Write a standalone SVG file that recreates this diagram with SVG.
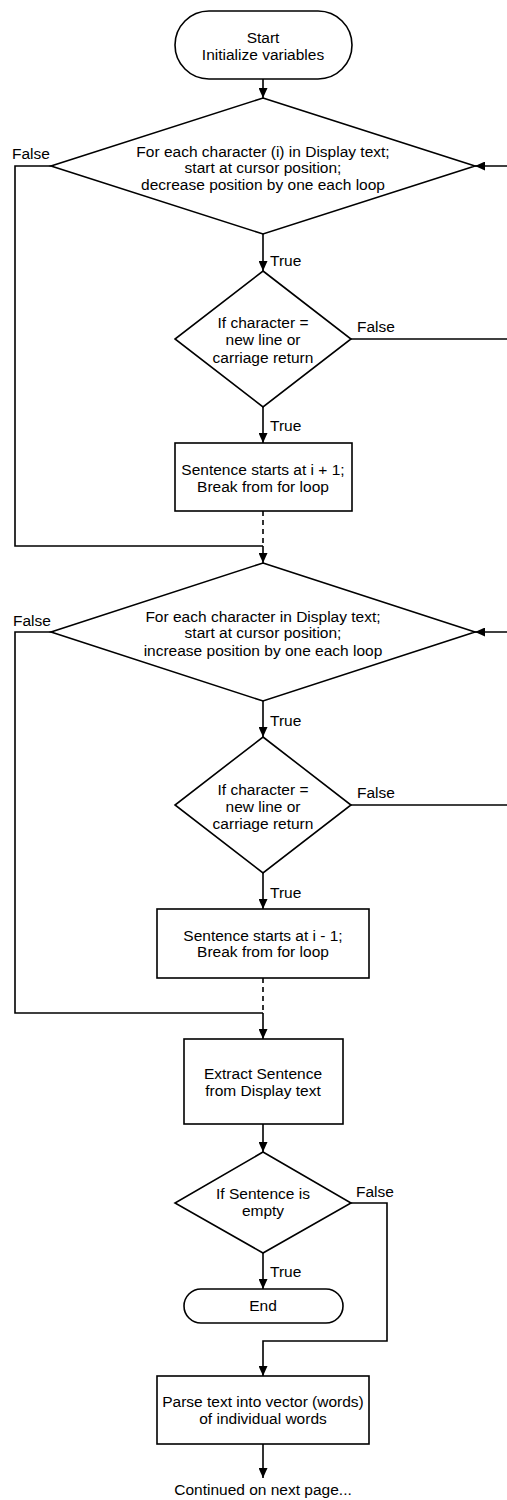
<svg xmlns="http://www.w3.org/2000/svg" width="507" height="1500" viewBox="0 0 507 1500">
<style>
.s{fill:#fff;stroke:#000;stroke-width:1.6}
.c{fill:none;stroke:#000;stroke-width:1.6}
.d{stroke-dasharray:5,4}
text{font-family:"Liberation Sans",Arial,sans-serif;font-size:15.5px;fill:#000}
.m{text-anchor:middle}
</style>
<defs>
<marker id="a" markerUnits="userSpaceOnUse" markerWidth="10" markerHeight="9" refX="10" refY="4.5" orient="auto">
<path d="M0,0 L10,4.5 L0,9 z" fill="#000"/>
</marker>
</defs>
<rect width="507" height="1500" fill="#fff"/>
<g id="connectors">
<path class="c" d="M263,79 V98" marker-end="url(#a)"/>
<path class="c" d="M263,234 V271" marker-end="url(#a)"/>
<path class="c" d="M263,407 V443" marker-end="url(#a)"/>
<path class="c" d="M510,166 H475" marker-end="url(#a)"/>
<path class="c" d="M351,339 H510"/>
<path class="c" d="M51,166 H15 V546 H263"/>
<path class="c d" d="M263,511 V546"/>
<path class="c" d="M263,546 V563" marker-end="url(#a)"/>
<path class="c" d="M263,701 V737" marker-end="url(#a)"/>
<path class="c" d="M263,873 V909" marker-end="url(#a)"/>
<path class="c" d="M510,632 H475" marker-end="url(#a)"/>
<path class="c" d="M351,805 H510"/>
<path class="c" d="M51,632 H15 V1013 H263"/>
<path class="c d" d="M263,978 V1013"/>
<path class="c" d="M263,1013 V1039" marker-end="url(#a)"/>
<path class="c" d="M263,1124 V1152" marker-end="url(#a)"/>
<path class="c" d="M263,1253 V1289" marker-end="url(#a)"/>
<path class="c" d="M351,1203 H387 V1341 H263 V1376" marker-end="url(#a)"/>
<path class="c" d="M263,1444 V1478" marker-end="url(#a)"/>
<text x="12" y="158.5">False</text>
<text x="270" y="265.5">True</text>
<text x="357" y="331.5">False</text>
<text x="270" y="430.5">True</text>
<text x="13" y="625.5">False</text>
<text x="270" y="725.5">True</text>
<text x="357" y="798">False</text>
<text x="270" y="897.5">True</text>
<text x="356" y="1196.5">False</text>
<text x="270" y="1277">True</text>
</g>
<g id="start">
<rect class="s" x="175" y="11" width="177" height="68" rx="34"/>
<text class="m" x="263" y="43">Start</text>
<text class="m" x="263" y="60">Initialize variables</text>
</g>
<g id="loop1">
<polygon class="s" points="263,98 475,166 263,234 51,166"/>
<text class="m" x="263" y="156.5">For each character (i) in Display text;</text>
<text class="m" x="263" y="173">start at cursor position;</text>
<text class="m" x="263" y="190">decrease position by one each loop</text>
</g>
<g id="check1">
<polygon class="s" points="263,271 351,339 263,407 175,339"/>
<text class="m" x="263" y="328">If character =</text>
<text class="m" x="263" y="345">new line or</text>
<text class="m" x="263" y="362.5">carriage return</text>
</g>
<g id="start1">
<rect class="s" x="175" y="443" width="177" height="68"/>
<text class="m" x="263" y="474.5">Sentence starts at i + 1;</text>
<text class="m" x="263" y="491.5">Break from for loop</text>
</g>
<g id="loop2">
<polygon class="s" points="263,563 475,632 263,701 51,632"/>
<text class="m" x="263" y="621.5">For each character in Display text;</text>
<text class="m" x="263" y="638">start at cursor position;</text>
<text class="m" x="263" y="655.5">increase position by one each loop</text>
</g>
<g id="check2">
<polygon class="s" points="263,737 351,805 263,873 175,805"/>
<text class="m" x="263" y="795">If character =</text>
<text class="m" x="263" y="812">new line or</text>
<text class="m" x="263" y="829">carriage return</text>
</g>
<g id="start2">
<rect class="s" x="157" y="909" width="212" height="69"/>
<text class="m" x="263" y="940.5">Sentence starts at i - 1;</text>
<text class="m" x="263" y="957">Break from for loop</text>
</g>
<g id="extract">
<rect class="s" x="184" y="1039" width="159" height="85"/>
<text class="m" x="263" y="1079">Extract Sentence</text>
<text class="m" x="263" y="1095.5">from Display text</text>
</g>
<g id="empty">
<polygon class="s" points="263,1152 351,1203 263,1253 175,1203"/>
<text class="m" x="263" y="1199">If Sentence is</text>
<text class="m" x="263" y="1216">empty</text>
</g>
<g id="end">
<rect class="s" x="184" y="1289" width="159" height="34" rx="17"/>
<text class="m" x="263" y="1311">End</text>
</g>
<g id="parse">
<rect class="s" x="157" y="1376" width="212" height="68"/>
<text class="m" x="263" y="1406.5">Parse text into vector (words)</text>
<text class="m" x="263" y="1424">of individual words</text>
</g>
<g id="continued">
<text class="m" x="263" y="1495">Continued on next page...</text>
</g>
</svg>
